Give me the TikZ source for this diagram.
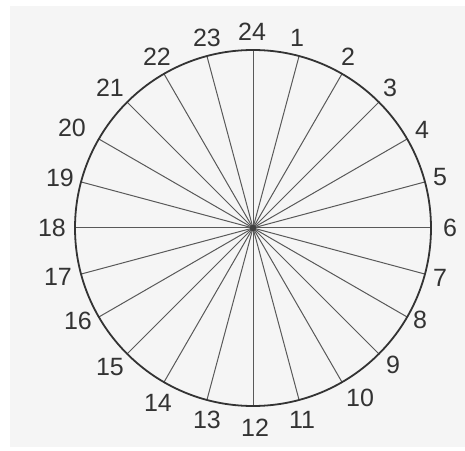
\documentclass[tikz,border=0pt]{standalone}
\usepackage{fontspec}
\setmainfont{Liberation Sans}
\usetikzlibrary{calc}
\begin{document}
\begin{tikzpicture}[x=1pt,y=1pt,
  spoke/.style={draw=black!65,line width=1.0pt},
  rim/.style={draw=black!80,line width=1.8pt},
  num/.style={font=\fontsize{25}{25}\selectfont,text=black!80,inner sep=0pt}]
\useasboundingbox (0,0) rectangle (465,450);
\fill[black!4] (10,3) rectangle (465,444);
\coordinate (c) at (253,222);
\foreach \k in {0,...,23}{
  \coordinate (p\k) at ($(c)+({90-15*\k}:178)$);
}
\foreach \k in {0,...,23}{ \draw[spoke] (c) -- (p\k); }
\draw[rim] (c) circle (178);
\fill[black!75] (c) circle (3.2);
\foreach \n/\x/\y in {24/252/32,1/297/38,2/348/57,3/390/88,4/422/130,5/440/177,6/450/228,7/440/278,8/420/320,9/393/365,10/360/398,11/302/420,12/255/428,13/207/420,14/158/403,15/110/367,16/78/321,17/58/277,18/52/228,19/60/178,20/72/128,21/110/88,22/157/57,23/207/38}{
  \node[num] (n\n) at (\x,450-\y) {\n};
}
\end{tikzpicture}
\end{document}
